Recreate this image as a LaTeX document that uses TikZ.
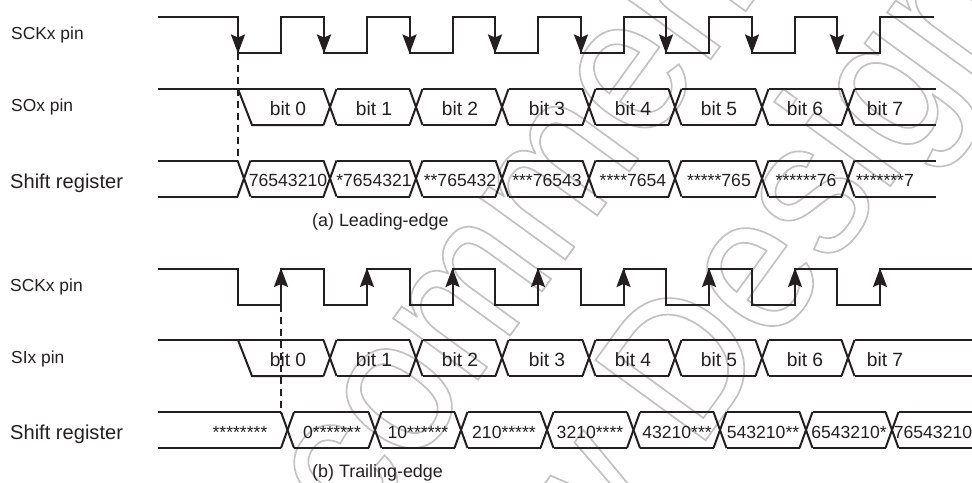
\documentclass[tikz,border=0pt]{standalone}
\usepackage{fontspec}
\setmainfont{Liberation Sans}
\newfontface\markfont[FakeStretch=0.9]{Liberation Sans}
\usetikzlibrary{arrows.meta}
\definecolor{ink}{HTML}{231F20}
\newcommand{\outlinetext}[1]{\special{pdf:code q 1 Tr 1.7 w 0.76 G}#1\special{pdf:code Q}}
\tikzset{
  x=1pt,y=-1pt,
  wave/.style={draw=ink,line width=2pt,line join=miter},
  guide/.style={draw=ink,line width=1.3pt,dash pattern=on 7pt off 5pt},
  edgetip/.style={-{Stealth[length=19pt,width=14pt,inset=3pt]},draw=ink,fill=ink,line width=2pt},
  lab/.style={anchor=base west,inner sep=0pt,text=ink,font=\fontsize{17.4}{20}\selectfont},
  biglab/.style={anchor=base west,inner sep=0pt,text=ink,font=\fontsize{20.1}{22}\selectfont},
  captext/.style={anchor=base west,inner sep=0pt,text=ink,font=\fontsize{17.9}{22}\selectfont},
  bitlab/.style={anchor=base,inner sep=0pt,text=ink,font=\fontsize{19.2}{22}\selectfont},
  reg/.style={anchor=base,inner sep=0pt,text=ink,font=\fontsize{17.6}{20}\selectfont},
  mark text/.style={anchor=base west,inner sep=0pt,rotate=54,font=\markfont\fontsize{198}{198}\selectfont},
}
\newcommand{\busX}[3]{% centre, top, bottom
  \draw[wave] (#1-6.5,#2) -- (#1+6.5,#3);
  \draw[wave] (#1-6.5,#3) -- (#1+6.5,#2);}
\begin{document}
\begin{tikzpicture}
\clip (0,0) rectangle (972,482);
\useasboundingbox (0,0) rectangle (972,482);
% watermark
\node[mark text] (w1) at (360,542) {\outlinetext{commended}};
\node[mark text] (w2) at (697,452) {\outlinetext{\llap{New\ }Design}};
% ---------- (a) ----------
\node[lab] (la1) at (11,39) {SCKx pin};
\node[lab] (la2) at (11,111) {SOx pin};
\node[biglab] (la3) at (10,188) {Shift register};
\draw[wave] (158,16.5) -- (238,16.5) -- (238,53) -- (281,53) -- (281,16.5) -- (324,16.5) -- (324,53) -- (367,53) -- (367,16.5) -- (409.5,16.5) -- (409.5,53) -- (452.5,53) -- (452.5,16.5) -- (495,16.5) -- (495,53) -- (538,53) -- (538,16.5) -- (581,16.5) -- (581,53) -- (623.5,53) -- (623.5,16.5) -- (666,16.5) -- (666,53) -- (709,53) -- (709,16.5) -- (752,16.5) -- (752,53) -- (795,53) -- (795,16.5) -- (837,16.5) -- (837,53) -- (880,53) -- (880,16.5) -- (934,16.5);
\foreach \x in {238,324,409.5,495,581,666,752,837}
  \draw[edgetip] (\x,17) -- (\x,53.5);
\coordinate (a0) at (238,53);
\coordinate (a1) at (238,161);
\draw[guide] (a0) -- (a1);
% SOx
\draw[wave] (158,89) -- (323.5,89);
\draw[wave] (238,89) -- (252,125) -- (323.5,125);
\foreach \c/\n in {330/416,416/502,502/589,589/675,675/762,762/848}{
  \busX{\c}{89}{125}
  \draw[wave] (\c+6.5,89) -- (\n-6.5,89);
  \draw[wave] (\c+6.5,125) -- (\n-6.5,125);}
\busX{848}{89}{125}
\draw[wave] (854.5,89) -- (936,89);
\draw[wave] (854.5,125) -- (936,125);
\foreach \x/\t in {288/bit 0,374/bit 1,460/bit 2,547/bit 3,633/bit 4,719/bit 5,805/bit 6,885/bit 7}
  \node[bitlab] (n\x) at (\x,115) {\t};
% Shift a
\draw[wave] (158,160.5) -- (237.5,160.5);
\draw[wave] (158,196.5) -- (237.5,196.5);
\busX{244}{160.5}{196.5}
\foreach \c/\n in {244/330,330/416,416/502,502/589,589/675,675/762,762/848}{
  \busX{\n}{160.5}{196.5}
  \draw[wave] (\c+6.5,160.5) -- (\n-6.5,160.5);
  \draw[wave] (\c+6.5,196.5) -- (\n-6.5,196.5);}
\draw[wave] (854.5,160.5) -- (936,160.5);
\draw[wave] (854.5,196.5) -- (936,196.5);
\foreach \x/\t in {288/76543210,374/*7654321,460/**765432,547/***76543,633/****7654,719/*****765,806/******76,885/*******7}
  \node[reg] (r\x) at (\x,186.7) {\t};
\node[captext] (capa) at (312,226.7) {(a) Leading-edge};
% ---------- (b) ----------
\node[lab] (lb1) at (10,291) {SCKx pin};
\node[lab] (lb2) at (11,363) {SIx pin};
\node[biglab] (lb3) at (10,439) {Shift register};
\draw[wave] (158,268.5) -- (238,268.5) -- (238,304.5) -- (281,304.5) -- (281,268.5) -- (324,268.5) -- (324,304.5) -- (367,304.5) -- (367,268.5) -- (409.5,268.5) -- (409.5,304.5) -- (452.5,304.5) -- (452.5,268.5) -- (495,268.5) -- (495,304.5) -- (538,304.5) -- (538,268.5) -- (581,268.5) -- (581,304.5) -- (623.5,304.5) -- (623.5,268.5) -- (666,268.5) -- (666,304.5) -- (709,304.5) -- (709,268.5) -- (752,268.5) -- (752,304.5) -- (795,304.5) -- (795,268.5) -- (837,268.5) -- (837,304.5) -- (880,304.5) -- (880,268.5) -- (972,268.5);
\foreach \x in {281,367,452.5,538,623.5,709,795,880}
  \draw[edgetip] (\x,304) -- (\x,268);
\coordinate (b0) at (281,304.5);
\coordinate (b1) at (281,413);
\draw[guide] (b0) -- (b1);
% SIx
\draw[wave] (158,340) -- (323.5,340);
\draw[wave] (238,340) -- (252,376) -- (323.5,376);
\foreach \c/\n in {330/416,416/502,502/589,589/675,675/762,762/848}{
  \busX{\c}{340}{376}
  \draw[wave] (\c+6.5,340) -- (\n-6.5,340);
  \draw[wave] (\c+6.5,376) -- (\n-6.5,376);}
\busX{848}{340}{376}
\draw[wave] (854.5,340) -- (972,340);
\draw[wave] (854.5,376) -- (972,376);
\foreach \x/\t in {288/bit 0,374/bit 1,460/bit 2,547/bit 3,633/bit 4,719/bit 5,805/bit 6,885/bit 7}
  \node[bitlab] (s\x) at (\x,366) {\t};
% Shift b
\draw[wave] (158,412) -- (281,412);
\draw[wave] (158,448) -- (281,448);
\busX{287.5}{412}{448}
\foreach \c/\n in {287.5/375,375/461,461/547,547/633.5,633.5/720,720/806,806/892}{
  \busX{\n}{412}{448}
  \draw[wave] (\c+6.5,412) -- (\n-6.5,412);
  \draw[wave] (\c+6.5,448) -- (\n-6.5,448);}
\draw[wave] (898.5,412) -- (972,412);
\draw[wave] (898.5,448) -- (972,448);
\foreach \x/\t in {240/********,332/0*******,418/10******,504/210*****,590/3210****,677/43210***,763/543210**,849/6543210*,933/76543210}
  \node[reg] (t\x) at (\x,438.5) {\t};
\node[captext] (capb) at (312,477) {(b) Trailing-edge};
\end{tikzpicture}
\end{document}
